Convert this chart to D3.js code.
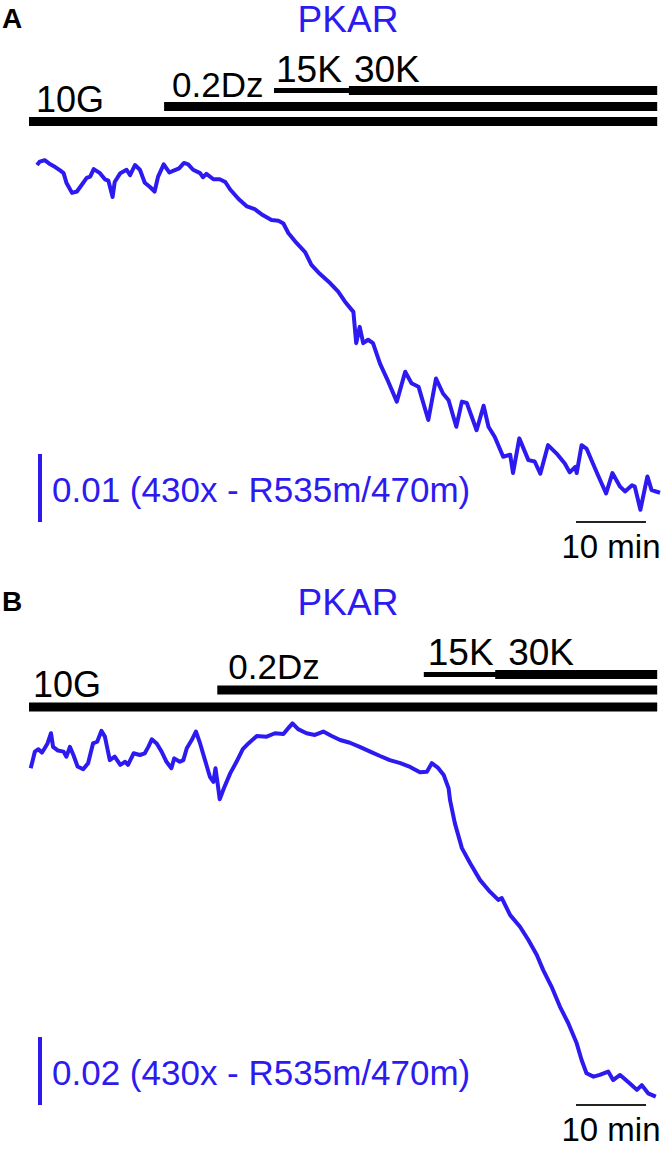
<!DOCTYPE html>
<html>
<head>
<meta charset="utf-8">
<script src="https://cdn.jsdelivr.net/npm/d3@7"></script>
<style>
  body { margin: 0; background: #fff; }
  svg { display: block; }
  text { font-family: "Liberation Sans", Arial, sans-serif; }
</style>
</head>
<body>
<div id="chart"></div>
<script>
// trace A: time (min) and ratio change
const timeA = [1.0,1.4,2.1,2.9,3.6,4.3,4.8,5.2,6.0,6.7,7.4,8.1,8.6,9.1,10.0,10.7,11.2,11.8,12.1,12.9,
  13.8,14.3,15.0,15.7,16.4,17.1,17.8,18.3,19.1,19.9,20.6,21.3,22.0,22.6,23.3,24.3,24.7,25.2,26.2,27.1,
  27.9,28.6,29.8,31.0,32.1,33.3,34.5,35.5,36.2,36.9,38.1,39.3,40.2,41.4,42.9,44.0,45.0,46.2,46.6,47.1,
  47.6,48.3,49.0,50.0,51.2,52.4,53.6,54.5,55.5,56.9,58.0,59.0,59.8,60.9,61.7,62.4,63.8,64.8,65.5,66.4,
  67.6,68.6,69.0,69.9,71.2,72.1,72.9,74.0,75.2,76.4,77.1,77.9,78.1,78.8,79.5,81.0,82.3,83.2,84.3,85.0,
  86.0,86.4,87.2,88.2,88.8,90.0];
const ratioA = [0,0.0005,0.0007,0.0001,-0.0003,-0.0008,-0.0012,-0.0026,-0.0041,-0.0039,-0.0029,-0.0019,-0.0017,-0.0006,-0.0012,-0.0021,-0.0023,-0.0047,-0.0025,-0.0012,
  -0.0007,-0.0015,0,-0.0007,-0.0026,-0.0032,-0.0039,-0.0017,0.0001,-0.0011,-0.0008,-0.0005,0.0003,0.0001,-0.0007,-0.0012,-0.0018,-0.0013,-0.0021,-0.0021,
  -0.0025,-0.0036,-0.0050,-0.0061,-0.0065,-0.0074,-0.0081,-0.0082,-0.0086,-0.0100,-0.0115,-0.0128,-0.0147,-0.0160,-0.0174,-0.0186,-0.0201,-0.0216,-0.0262,-0.0238,
  -0.0262,-0.0257,-0.0262,-0.0292,-0.0319,-0.0348,-0.0304,-0.0321,-0.0326,-0.0375,-0.0314,-0.0336,-0.0346,-0.0385,-0.0348,-0.0350,-0.0390,-0.0354,-0.0385,-0.0400,
  -0.0429,-0.0426,-0.0453,-0.0402,-0.0434,-0.0436,-0.0454,-0.0412,-0.0424,-0.0439,-0.0452,-0.0444,-0.0453,-0.0412,-0.0417,-0.0453,-0.0483,-0.0453,-0.0473,-0.0480,
  -0.0471,-0.0473,-0.0507,-0.0458,-0.0478,-0.0482];

// trace B
const timeB = [0.1,0.4,0.7,1.2,1.7,2.1,2.5,3.0,3.3,4.0,4.8,5.2,5.7,6.2,6.8,7.6,8.3,9.0,9.6,10.2,
  10.7,11.4,12.1,12.9,13.6,14.0,14.8,15.7,16.4,16.9,17.4,18.1,18.8,19.5,20.2,20.6,21.4,21.9,22.4,23.1,
  23.7,24.3,25.0,25.7,26.2,26.5,26.8,27.1,27.7,28.6,29.5,30.4,31.2,32.4,33.8,35.0,36.2,36.9,37.5,38.3,
  39.5,40.7,41.9,43.1,44.3,45.7,47.1,48.6,50.0,51.4,52.9,54.3,55.7,56.7,57.4,58.3,59.1,59.8,60.0,60.7,
  61.7,62.9,64.3,65.7,66.9,67.4,68.6,70.0,71.2,72.4,73.3,74.5,75.7,76.9,78.1,78.8,79.5,80.5,81.4,82.6,
  83.3,84.3,85.7,86.7,87.4,88.3,89.4];
const ratioB = [-0.0039,-0.0015,0.0010,0.0017,0.0007,0.0020,0.0034,0.0064,0.0024,0.0013,0.0010,-0.0005,0.0024,0,-0.0034,-0.0042,-0.0024,0.0034,0.0039,0.0071,
  0.0054,-0.0015,-0.0005,-0.0029,-0.0020,-0.0029,0.0005,0,0.0005,0.0024,0.0046,0.0034,0.0010,-0.0020,-0.0039,-0.0010,-0.0020,-0.0015,0.0020,0.0044,
  0.0069,0.0034,-0.0015,-0.0064,-0.0079,-0.0039,-0.0083,-0.0130,-0.0098,-0.0054,-0.0020,0.0017,0.0034,0.0056,0.0054,0.0064,0.0062,0.0079,0.0093,0.0076,
  0.0064,0.0059,0.0069,0.0056,0.0044,0.0036,0.0024,0.0010,-0.0003,-0.0015,-0.0024,-0.0035,-0.0051,-0.0049,-0.0024,-0.0038,-0.0059,-0.0098,-0.0132,-0.0201,
  -0.0274,-0.0319,-0.0368,-0.0402,-0.0426,-0.0421,-0.0471,-0.0505,-0.0544,-0.0588,-0.0632,-0.0681,-0.0740,-0.0789,-0.0848,-0.0897,-0.0936,-0.0946,-0.0941,-0.0931,
  -0.0956,-0.0941,-0.0966,-0.0985,-0.0971,-0.0995,-0.1005];

// treatments (start time, min)
const drugs = ["10G", "0.2Dz", "15K", "30K"];
const drugStartA = [0, 19.3, 35.0, 45.7];
const drugStartB = [0, 26.9, 56.4, 66.6];
const drugEnd = 89.6;

const scaleBarA = 0.01;
const scaleBarB = 0.02;
const timeBarMin = 10;
const scaleUnit = "(430x - R535m/470m)";

const width = 664, height = 1156;
const blue = "#2c1af0";

const svg = d3.select("#chart").append("svg")
  .attr("width", width)
  .attr("height", height);

const x = d3.scaleLinear().domain([0, 90]).range([30, 660]);

const panels = [
  { tag: "A", top: 0, time: timeA, ratio: ratioA, starts: drugStartA,
    yDomain: [0, -0.05], yRange: [165, 505], bar: scaleBarA,
    rowY: [121.5, 106.5, 90.5, 90.5], textY: [112, 97, 82, 82], textDx: [7, 8, 2, 5] },
  { tag: "B", top: 583, time: timeB, ratio: ratioB, starts: drugStartB,
    yDomain: [0, -0.1], yRange: [172, 512], bar: scaleBarB,
    rowY: [124, 107, 91.5, 91.5], textY: [114, 96, 82, 82], textDx: [4, 11, 4, 13] }
];

const fontSize = [36, 35, 37, 37];

panels.forEach(p => {
  const g = svg.append("g").attr("transform", `translate(0,${p.top})`);
  const y = d3.scaleLinear().domain(p.yDomain).range(p.yRange);

  g.append("text")
    .attr("x", 2).attr("y", 28)
    .attr("font-size", 28).attr("font-weight", "bold")
    .text(p.tag);

  g.append("text")
    .attr("x", 348).attr("y", 32)
    .attr("text-anchor", "middle")
    .attr("font-size", 37).attr("fill", blue)
    .text("PKAR");

  // treatment bars
  drugs.forEach((d, i) => {
    // 15K runs until 30K is added, and is drawn thin
    const end = i === 2 ? p.starts[3] : drugEnd;
    g.append("line")
      .attr("x1", x(p.starts[i]) - 1).attr("x2", x(end))
      .attr("y1", p.rowY[i]).attr("y2", p.rowY[i])
      .attr("stroke", "#000")
      .attr("stroke-width", i === 2 ? 5 : 9);
    g.append("text")
      .attr("x", x(p.starts[i]) - 1 + p.textDx[i])
      .attr("y", p.textY[i])
      .attr("font-size", fontSize[i])
      .text(d);
  });

  const pts = p.time.map((t, i) => [t, p.ratio[i]]);
  const line = d3.line().x(d => x(d[0])).y(d => y(d[1]));
  g.append("path")
    .datum(pts)
    .attr("d", line)
    .attr("fill", "none")
    .attr("stroke", blue)
    .attr("stroke-width", 4)
    .attr("stroke-linejoin", "round");

  // vertical scale bar
  const barLen = y(-p.bar) - y(0);
  g.append("line")
    .attr("x1", 40).attr("x2", 40)
    .attr("y1", 454).attr("y2", 454 + barLen)
    .attr("stroke", blue).attr("stroke-width", 4);
  g.append("text")
    .attr("x", 52).attr("y", 502)
    .attr("font-size", 35).attr("fill", blue)
    .text(`${p.bar.toFixed(2)} ${scaleUnit}`);

  // time scale bar
  g.append("line")
    .attr("x1", x(78)).attr("x2", x(78 + timeBarMin))
    .attr("y1", 522).attr("y2", 522)
    .attr("stroke", "#222").attr("stroke-width", 2);
  g.append("text")
    .attr("x", x(78 + timeBarMin / 2)).attr("y", 558)
    .attr("text-anchor", "middle")
    .attr("font-size", 33)
    .text(`${timeBarMin} min`);
});
</script>
</body>
</html>
